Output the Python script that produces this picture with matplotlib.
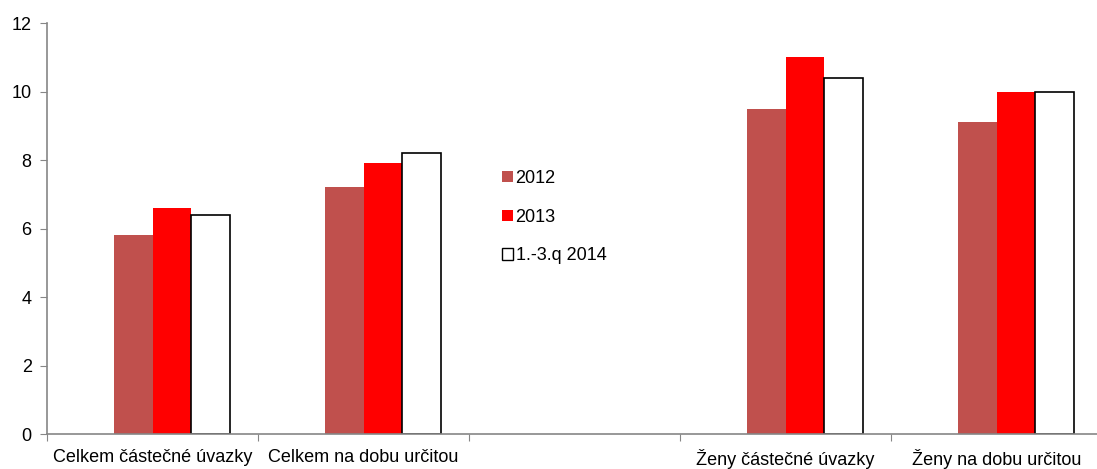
import matplotlib
matplotlib.use("Agg")
import matplotlib.pyplot as plt
from matplotlib.patches import Patch
import numpy as np

categories = ["Celkem částečné úvazky", "Celkem na dobu určitou", "",
              "Ženy částečné úvazky", "Ženy na dobu určitou"]
series_names = ["2012", "2013", "1.-3.q 2014"]
v2012 = [5.8, 7.2, np.nan, 9.5, 9.1]
v2013 = [6.6, 7.9, np.nan, 11.0, 10.0]
v2014 = [6.4, 8.2, np.nan, 10.4, 10.0]

plt.rcParams['font.family'] = ['Liberation Sans', 'DejaVu Sans']
fig = plt.figure(figsize=(10.97, 4.69), dpi=100)
ax = fig.add_axes([47/1097, 35/469, 1055/1097, 411/469])

x = np.arange(len(categories))
w = 0.183
colors = ["#C0504D", "#FF0000", "#FFFFFF"]
offsets = [-0.5 * w, 0.5 * w, 1.5 * w]
for vals, off, c, name in zip([v2012, v2013, v2014], offsets, colors, series_names):
    if c == "#FFFFFF":
        ax.bar(x + off, vals, width=w, color=c, edgecolor="black", linewidth=1.2, label=name)
    else:
        ax.bar(x + off, vals, width=w, color=c, edgecolor="none", label=name)

ax.set_xlim(-0.5, 4.5)
ax.set_ylim(0, 12)
ax.set_yticks(np.arange(0, 13, 2))
ax.tick_params(axis='y', direction='out', length=5, color='#868686', labelsize=13, pad=6)

ax.set_xticks(np.arange(-0.5, 4.6, 1.0))
ax.set_xticklabels([])
ax.set_xticks(x, minor=True)
ax.set_xticklabels(categories, minor=True)
ax.tick_params(axis='x', which='major', direction='out', length=5, color='#868686')
ax.tick_params(axis='x', which='minor', length=0, labelsize=13, pad=11)

for s in ['top', 'right']:
    ax.spines[s].set_visible(False)
for s in ['left', 'bottom']:
    ax.spines[s].set_color('#868686')
    ax.spines[s].set_linewidth(1.2)

handles = [Patch(facecolor=colors[0], edgecolor='none'),
           Patch(facecolor=colors[1], edgecolor='none'),
           Patch(facecolor='white', edgecolor='black', linewidth=1.0)]
fig.legend(handles, series_names, loc='upper left', bbox_to_anchor=(502/1097, 1 - 170/469),
           frameon=False, fontsize=13, handlelength=0.6, handleheight=0.6,
           handletextpad=0.15, labelspacing=1.2, borderpad=0, borderaxespad=0)

fig.savefig("out.png", dpi=100)
